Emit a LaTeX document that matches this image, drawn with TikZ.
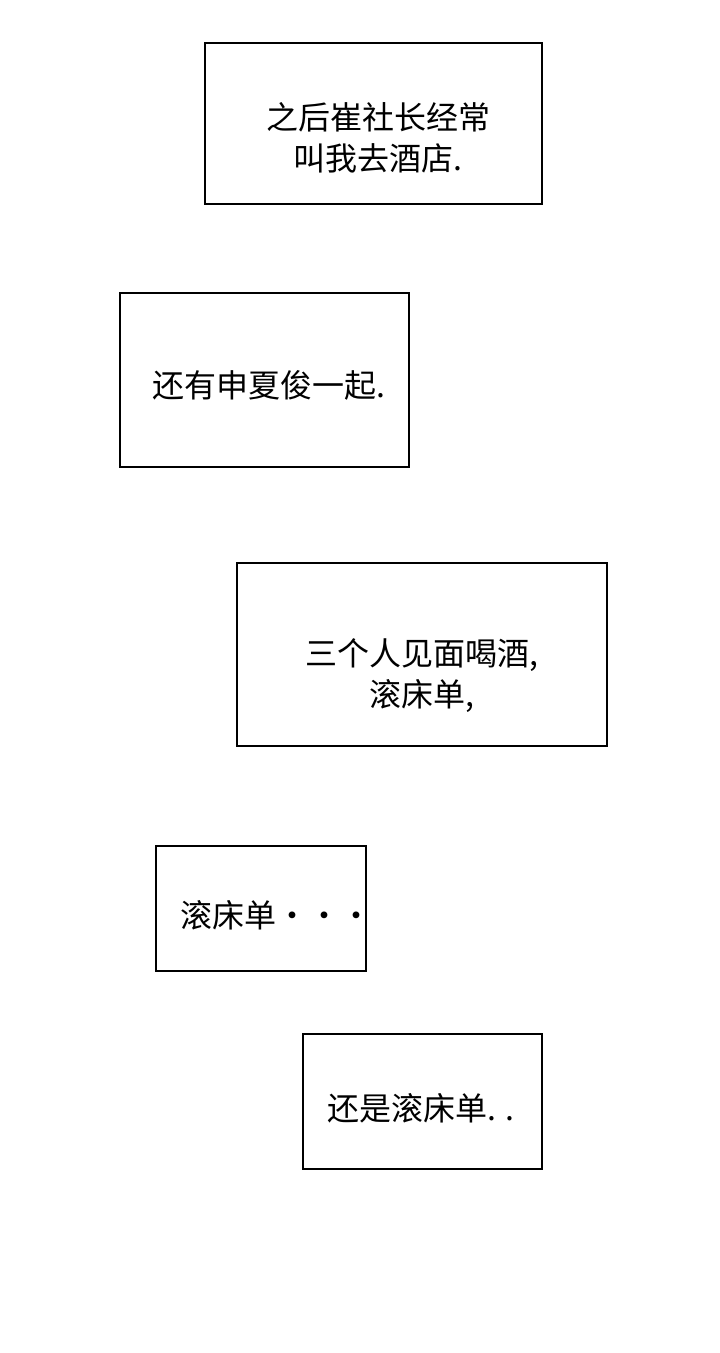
\documentclass[tikz,border=0pt]{standalone}
\usepackage{fontspec}
\newfontfamily\cjk{Noto Sans CJK SC}
\begin{document}
\begin{tikzpicture}[x=1pt,y=-1pt,
  box/.style={draw=black,line width=1.5pt,fill=white},
  txt/.style={font=\cjk\fontsize{32}{41}\selectfont,align=center,inner sep=0pt}]
\useasboundingbox[fill=white] (0,0) rectangle (720,1353);
\draw[box] (205,43) rectangle (542,204);
\node[txt] (t1) at (378,138) {之后崔社长经常\\叫我去酒店.};
\draw[box] (120,293) rectangle (409,467);
\node[txt] (t2) at (269,385) {还有申夏俊一起.};
\draw[box] (237,563) rectangle (607,746);
\node[txt] (t3) at (422,676) {三个人见面喝酒,\\滚床单,};
\draw[box] (156,846) rectangle (366,971);
\node[txt,anchor=west] (t4) at (180,915) {滚床单···};
\draw[box] (303,1034) rectangle (542,1169);
\node[txt] (t5) at (421,1108) {还是滚床单. .};
\end{tikzpicture}
\end{document}
